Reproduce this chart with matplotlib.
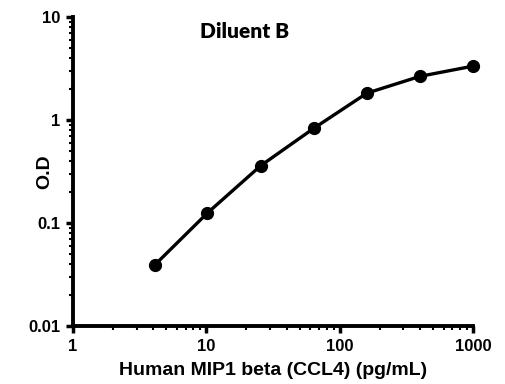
import matplotlib
matplotlib.use("Agg")
import matplotlib.pyplot as plt
from matplotlib.ticker import FixedLocator, LogLocator, NullFormatter

# Standard curve, Diluent B
conc = [4.1, 10.2, 25.6, 64, 160, 400, 1000]
od = [0.039, 0.125, 0.36, 0.83, 1.82, 2.65, 3.33]

x_ticks = [1, 10, 100, 1000]
x_labels = ["1", "10", "100", "1000"]
y_ticks = [0.01, 0.1, 1, 10]
y_labels = ["0.01", "0.1", "1", "10"]

plt.rcParams['font.family'] = ['Liberation Sans', 'DejaVu Sans']

fig = plt.figure(figsize=(5.06, 3.84), dpi=100)
ax = fig.add_axes([0.144, 0.151, 0.791, 0.805])

ax.plot(conc, od, color='black', lw=2.4, marker='o', markersize=8.5, clip_on=False)

ax.set_xscale('log')
ax.set_yscale('log')
ax.set_xlim(1, 1000)
ax.set_ylim(0.01, 10)

ax.xaxis.set_major_locator(FixedLocator(x_ticks))
ax.set_xticklabels(x_labels)
ax.yaxis.set_major_locator(FixedLocator(y_ticks))
ax.set_yticklabels(y_labels)
ax.xaxis.set_minor_locator(LogLocator(base=10, subs=range(2, 10)))
ax.yaxis.set_minor_locator(LogLocator(base=10, subs=range(2, 10)))
ax.xaxis.set_minor_formatter(NullFormatter())
ax.yaxis.set_minor_formatter(NullFormatter())

for side in ['top', 'right']:
    ax.spines[side].set_visible(False)
for side in ['left', 'bottom']:
    ax.spines[side].set_linewidth(2.8)

ax.tick_params(which='major', direction='out', length=5, width=2.5,
               labelsize=12, pad=4)
ax.tick_params(which='minor', direction='out', length=3, width=1.5)
for lab in ax.get_xticklabels() + ax.get_yticklabels():
    lab.set_fontweight('bold')

ax.set_xlabel('Human MIP1 beta (CCL4) (pg/mL)', fontsize=14, fontweight='bold', labelpad=6)
ax.set_ylabel('O.D', fontsize=14, fontweight='bold')
ax.yaxis.set_label_coords(-0.05, 0.5)

ax.text(0.43, 0.985, 'Diluent B', transform=ax.transAxes, fontsize=15,
        fontweight='heavy', family='Lato', va='top', ha='center')

fig.savefig('out.png', dpi=100)
